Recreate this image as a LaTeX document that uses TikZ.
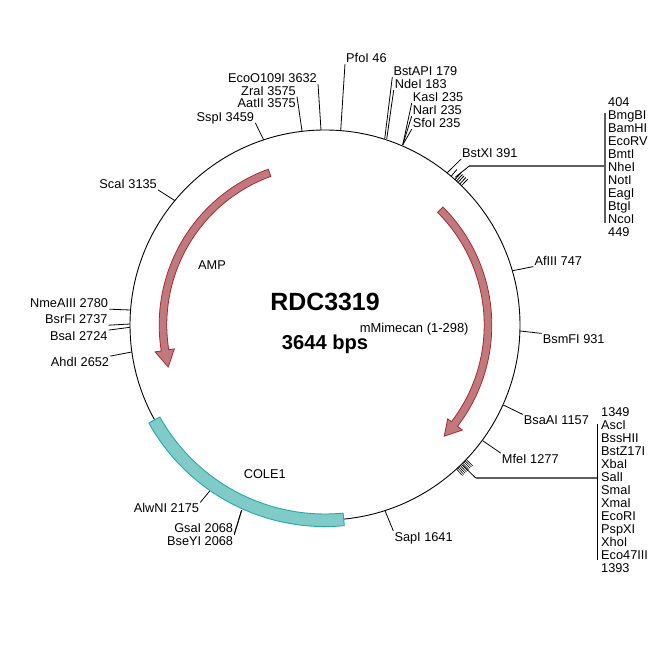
\documentclass[tikz,border=0pt]{standalone}
\usepackage{fontspec}
\setmainfont{Liberation Sans}
\definecolor{amp_fill}{RGB}{192,122,125}
\definecolor{amp_line}{RGB}{172,40,48}
\definecolor{ori_fill}{RGB}{128,203,200}
\definecolor{ori_line}{RGB}{38,170,165}
\definecolor{bar_gray}{RGB}{95,95,95}
\tikzset{
  enzyme/.style={inner sep=1bp,text height=9.2bp,text depth=0.2bp,font=\fontsize{12.8}{14}\selectfont},
  feature/.style={inner sep=1bp,font=\fontsize{12.8}{14}\selectfont},
  cds/.style={draw=amp_line,fill=amp_fill,line width=0.8bp,line join=miter},
  ori/.style={draw=ori_line,fill=ori_fill,line width=0.9bp},
  tick/.style={black,line width=0.8bp},
}
\begin{document}
\begin{tikzpicture}[line join=bevel,]
\useasboundingbox (0bp,0bp) rectangle (650bp,650bp);
%% backbone
\node (center) at (325bp,325bp) [inner sep=0pt] {};
\draw [black,line width=0.9bp] (center) circle (195bp);
%% enzyme labels
\node (node_pfoi) at (345bp,592bp) [enzyme,anchor=west] {PfoI 46};
\node (node_bstapi) at (392.3bp,578.7bp) [enzyme,anchor=west] {BstAPI 179};
\node (node_ndei) at (393.7bp,565.7bp) [enzyme,anchor=west] {NdeI 183};
\node (node_kasi) at (411.7bp,552.7bp) [enzyme,anchor=west] {KasI 235};
\node (node_nari) at (411.7bp,539.7bp) [enzyme,anchor=west] {NarI 235};
\node (node_sfoi) at (411.7bp,526.7bp) [enzyme,anchor=west] {SfoI 235};
\node (node_bstxi) at (461bp,496.7bp) [enzyme,anchor=west] {BstXI 391};
\node (node_afiii) at (533.3bp,389.3bp) [enzyme,anchor=west] {AfIII 747};
\node (node_bsmfi) at (541.7bp,310.7bp) [enzyme,anchor=west] {BsmFI 931};
\node (node_bsaai) at (522.7bp,229.7bp) [enzyme,anchor=west] {BsaAI 1157};
\node (node_mfei) at (500.7bp,191bp) [enzyme,anchor=west] {MfeI 1277};
\node (node_sapi) at (393.3bp,113.3bp) [enzyme,anchor=west] {SapI 1641};
\node (node_gsai) at (234.3bp,122.3bp) [enzyme,anchor=east] {GsaI 2068};
\node (node_bseyi) at (234.3bp,109.3bp) [enzyme,anchor=east] {BseYI 2068};
\node (node_alwni) at (200.3bp,141.7bp) [enzyme,anchor=east] {AlwNI 2175};
\node (node_ahdi) at (110.3bp,288bp) [enzyme,anchor=east] {AhdI 2652};
\node (node_bsai) at (108.7bp,314bp) [enzyme,anchor=east] {BsaI 2724};
\node (node_bsrfi) at (108.7bp,330.7bp) [enzyme,anchor=east] {BsrFI 2737};
\node (node_nmeaiii) at (109.3bp,346.7bp) [enzyme,anchor=east] {NmeAIII 2780};
\node (node_scai) at (158bp,466bp) [enzyme,anchor=east] {ScaI 3135};
\node (node_sspi) at (255.3bp,533bp) [enzyme,anchor=east] {SspI 3459};
\node (node_aatii) at (297bp,547bp) [enzyme,anchor=east] {AatII 3575};
\node (node_zrai) at (297bp,559.3bp) [enzyme,anchor=east] {ZraI 3575};
\node (node_ecoo) at (318bp,572bp) [enzyme,anchor=east] {EcoO109I 3632};
%% sites on the circle
\coordinate (site_pfoi) at (340.7bp,519.3bp);
\coordinate (site_bstapi) at (384.7bp,511bp);
\coordinate (site_ndei) at (386.7bp,511bp);
\coordinate (site_kasi) at (402.7bp,505bp);
\coordinate (site_bstxi) at (447.3bp,477.3bp);
\coordinate (site_afiii) at (512.7bp,379.3bp);
\coordinate (site_bsmfi) at (520bp,319bp);
\coordinate (site_bsaai) at (503.3bp,245bp);
\coordinate (site_mfei) at (482.7bp,209.3bp);
\coordinate (site_sapi) at (385bp,139.3bp);
\coordinate (site_gsai) at (241.7bp,140bp);
\coordinate (site_alwni) at (210bp,159.3bp);
\coordinate (site_ahdi) at (131.7bp,298bp);
\coordinate (site_bsai) at (130bp,322.7bp);
\coordinate (site_bsrfi) at (130bp,326bp);
\coordinate (site_nmeaiii) at (130bp,340bp);
\coordinate (site_scai) at (175bp,449.3bp);
\coordinate (site_sspi) at (263.7bp,510bp);
\coordinate (site_zrai) at (302bp,519bp);
\coordinate (site_ecoo) at (321bp,520bp);
%% ticks
\draw [tick] (node_pfoi.south west) -- (site_pfoi);
\draw [tick] (node_bstapi.south west) -- (site_bstapi);
\draw [tick] (node_ndei.south west) -- (site_ndei);
\draw [tick] (node_kasi.south west) -- (site_kasi);
\draw [tick] (node_nari.south west) -- (site_kasi);
\draw [tick] (node_sfoi.south west) -- (site_kasi);
\draw [tick] (node_bstxi.south west) -- (site_bstxi);
\draw [tick] (node_afiii.south west) -- (site_afiii);
\draw [tick] (node_bsmfi.north west) -- (site_bsmfi);
\draw [tick] (node_bsaai.north west) -- (site_bsaai);
\draw [tick] (node_mfei.north west) -- (site_mfei);
\draw [tick] (node_sapi.north west) -- (site_sapi);
\draw [tick] (node_gsai.south east) -- (site_gsai);
\draw [tick] (node_bseyi.north east) -- (site_gsai);
\draw [tick] (node_alwni.north east) -- (site_alwni);
\draw [tick] (node_ahdi.north east) -- (site_ahdi);
\draw [tick] (node_bsai.north east) -- (site_bsai);
\draw [tick] (node_bsrfi.south east) -- (site_bsrfi);
\draw [tick] (node_nmeaiii.south east) -- (site_nmeaiii);
\draw [tick] (node_scai.south east) -- (site_scai);
\draw [tick] (node_sspi.south east) -- (site_sspi);
\draw [tick] (node_zrai.south east) -- (site_zrai);
\draw [tick] (node_ecoo.south east) -- (site_ecoo);
%% upper cluster 404-449
\foreach \a in {49.7,48.2,47.6,47,46.3,45.6}
  \draw [tick] ([shift={(center)}]\a:195bp) -- ([shift={(center)}]\a:204bp);
\foreach \y/\t [count=\i] in {548/404,535/BmgBI,522/BamHI,509/EcoRV,496/BmtI,483/NheI,470/NotI,457/EagI,444/BtgI,431/NcoI,418/449}
  \node (upper_\i) at (608bp,\y bp) [enzyme,anchor=west,inner xsep=0pt] {\t};
\coordinate (upper_in) at ([shift={(center)}]48.6:197bp);
\coordinate (upper_elbow) at (469.3bp,484bp);
\coordinate (upper_top) at (605bp,536.7bp);
\coordinate (upper_bot) at (605bp,426.7bp);
\draw [bar_gray,line width=1.3bp] (upper_top) -- (upper_bot);
\draw [bar_gray,line width=1.2bp] (upper_elbow) -- (605bp,484bp);
\draw [tick] (upper_in) -- (upper_elbow);
%% lower cluster 1349-1393
\foreach \a in {-43.6,-44.1,...,-47.6}
  \draw [tick,line width=0.6bp] ([shift={(center)}]\a:195bp) -- ([shift={(center)}]\a:204bp);
\foreach \y/\t [count=\i] in {237.7/1349,224.7/AscI,211.7/BssHII,198.7/BstZ17I,185.7/XbaI,172.7/SalI,159.7/SmaI,146.7/XmaI,133.7/EcoRI,120.7/PspXI,107.7/XhoI,94.7/Eco47III,81.7/1393}
  \node (lower_\i) at (601bp,\y bp) [enzyme,anchor=west,inner xsep=0pt] {\t};
\coordinate (lower_in) at ([shift={(center)}]-45.5:197bp);
\coordinate (lower_elbow) at (475.7bp,172bp);
\coordinate (lower_top) at (597.3bp,226bp);
\coordinate (lower_bot) at (597.3bp,90bp);
\draw [black,line width=0.8bp] (lower_top) -- (lower_bot);
\draw [bar_gray,line width=1.2bp] (lower_elbow) -- (597.3bp,172bp);
\draw [tick] (lower_in) -- (lower_elbow);
%% features
\draw [ori,shift={(center)}] (209.1:201.6bp) arc (209.1:275.5:201.6bp) -- (275.5:189bp) arc (275.5:209.1:189bp) -- cycle;
\draw [cds,shift={(center)}] (110:165.8bp) arc (110:189:165.8bp) -- (189:172bp) -- (195:162.3bp) -- (189:152.5bp) -- (189:158.2bp) arc (189:110:158.2bp) -- cycle;
\draw [cds,shift={(center)}] (45:166.8bp) arc (45:-37.4:166.8bp) -- (-37.4:173bp) -- (-43:163bp) -- (-37.4:154.5bp) -- (-37.4:159.2bp) arc (-37.4:45:159.2bp) -- cycle;
\node (amp) at (212bp,385bp) [feature] {AMP};
\node (cole1) at (264.7bp,176bp) [feature] {COLE1};
\node (mimecan) at (414.2bp,321bp) [inner sep=1bp,font=\fontsize{13}{15}\selectfont] {mMimecan (1-298)};
\node (title) at (325bp,348bp) [inner sep=0pt,font=\fontsize{25}{28}\selectfont\bfseries] {RDC3319};
\node (size) at (325bp,305.7bp) [inner sep=0pt,font=\fontsize{20.2}{23}\selectfont\bfseries] {3644 bps};
%
\end{tikzpicture}
\end{document}
